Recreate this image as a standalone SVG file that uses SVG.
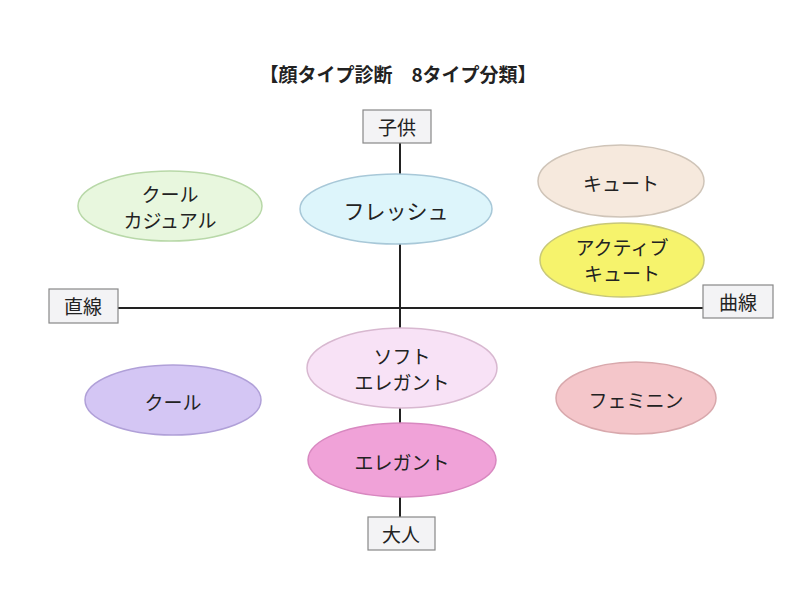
<svg xmlns="http://www.w3.org/2000/svg" width="800" height="600" viewBox="0 0 800 600">
<style>
text{font-family:"Noto Sans CJK JP","Noto Sans",sans-serif;fill:#222;text-anchor:middle;dominant-baseline:central}
.t{font-size:19px}
.box{fill:#f3f3f5;stroke:#888;stroke-width:1.2}
.ax{stroke:#222;stroke-width:2;fill:none}
.e{stroke-width:1.5}
</style>
<rect width="800" height="600" fill="#fff"/>
<text x="398" y="73" style="font-size:19px;font-weight:bold">【顔タイプ診断　8タイプ分類】</text>
<g id="connectors">
<line class="ax" x1="400" y1="143" x2="400" y2="517"/>
<line class="ax" x1="118" y1="308" x2="703" y2="308"/>
</g>
<g id="axis-child"><rect class="box" x="363" y="110" width="68" height="33"/><text class="t" x="397" y="126">子供</text></g>
<g id="axis-adult"><rect class="box" x="368" y="517" width="67" height="33"/><text class="t" x="401" y="533">大人</text></g>
<g id="axis-straight"><rect class="box" x="49" y="289" width="69" height="34"/><text class="t" x="83" y="305">直線</text></g>
<g id="axis-curve"><rect class="box" x="703" y="285" width="70" height="33"/><text class="t" x="738" y="301">曲線</text></g>
<g id="cool-casual"><ellipse class="e" cx="170" cy="206" rx="92" ry="35" fill="#e8f7de" stroke="#b8d8a8"/><text class="t" x="170" y="193">クール</text><text class="t" x="170" y="219">カジュアル</text></g>
<g id="fresh"><ellipse class="e" cx="396" cy="209" rx="96" ry="35" fill="#ddf5fb" stroke="#a8c8d8"/><text x="396" y="210" style="font-size:21px">フレッシュ</text></g>
<g id="cute"><ellipse class="e" cx="621" cy="181" rx="83" ry="36" fill="#f6e9dd" stroke="#cfc4b8"/><text class="t" x="621" y="182">キュート</text></g>
<g id="active-cute"><ellipse class="e" cx="622" cy="260" rx="82" ry="37" fill="#f6f36c" stroke="#c8c878"/><text class="t" x="622" y="246">アクティブ</text><text class="t" x="622" y="272">キュート</text></g>
<g id="soft-elegant"><ellipse class="e" cx="402" cy="368" rx="95" ry="40" fill="#f8e2f6" stroke="#d8b8d0"/><text class="t" x="402" y="355">ソフト</text><text class="t" x="402" y="381">エレガント</text></g>
<g id="cool"><ellipse class="e" cx="173" cy="400" rx="88" ry="35" fill="#d4c6f4" stroke="#b0a0d8"/><text class="t" x="173" y="401">クール</text></g>
<g id="elegant"><ellipse class="e" cx="402" cy="460" rx="94" ry="37" fill="#f0a2d8" stroke="#d888c0"/><text class="t" x="402" y="461">エレガント</text></g>
<g id="feminine"><ellipse class="e" cx="636" cy="398" rx="80" ry="36" fill="#f4c6ca" stroke="#d8a8ac"/><text class="t" x="636" y="399">フェミニン</text></g>
</svg>
